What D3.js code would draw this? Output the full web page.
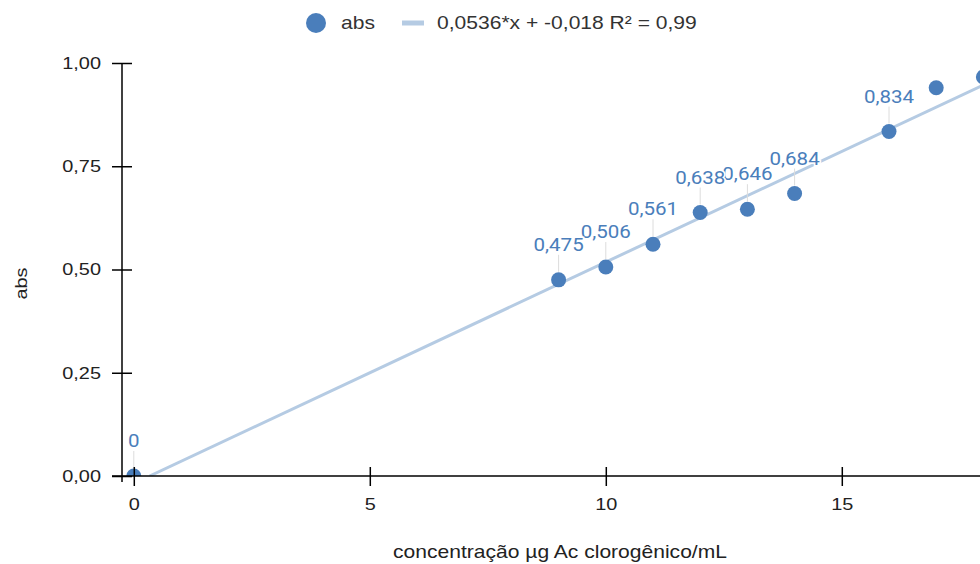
<!DOCTYPE html>
<html>
<head>
<meta charset="utf-8">
<script src="https://cdn.jsdelivr.net/npm/d3@7"></script>
<style>
  body { margin: 0; background: #fff; }
  svg { display: block; font-family: "Liberation Sans", Arial, sans-serif; }
</style>
</head>
<body>
<div id="chart"></div>
<script>
const concentracao = [0, 9, 10, 11, 12, 13, 14, 16, 17, 18];
const absorbancia = [0, 0.475, 0.506, 0.561, 0.638, 0.646, 0.684, 0.834, 0.94, 0.966];
const xTicks = [0, 5, 10, 15];
const yTicks = [0, 0.25, 0.5, 0.75, 1];
const slope = 0.0536;
const intercept = -0.018;

const width = 980, height = 564;
const margin = { top: 63, left: 122, bottom: 88 };
const sx = 1.17; // text in the original is drawn a bit wide
const fmt = d3.format(".2f");
const comma = s => s.replace(".", ",");

const svg = d3.select("#chart").append("svg")
  .attr("width", width).attr("height", height);

const x = d3.scaleLinear().domain([-0.25, 18.5]).range([margin.left, margin.left + 18.75 * 47.2]);
const y = d3.scaleLinear().domain([0, 1]).range([height - margin.bottom, margin.top]);

svg.append("clipPath").attr("id", "plot")
  .append("rect")
  .attr("x", x(-0.25)).attr("y", y(1) - 2)
  .attr("width", x(18.5) - x(-0.25)).attr("height", y(0) - y(1) + 2);

// trendline
const tx0 = -intercept / slope;
svg.append("line")
  .attr("clip-path", "url(#plot)")
  .attr("x1", x(tx0)).attr("y1", y(0))
  .attr("x2", x(18.5)).attr("y2", y(slope * 18.5 + intercept))
  .attr("stroke", "#b5cbe3").attr("stroke-width", 3);

const pts = concentracao.map((c, i) => ({ x: c, y: absorbancia[i] }));

// leader lines
const labelled = pts.filter(d => y(d.y) - 36 > margin.top);
svg.append("g").selectAll("line")
  .data(labelled)
  .join("line")
  .attr("x1", d => x(d.x)).attr("x2", d => x(d.x))
  .attr("y1", d => y(d.y) - 8).attr("y2", d => y(d.y) - 25)
  .attr("stroke", "#dcdcdc").attr("stroke-width", 1);

// points
svg.append("g").attr("clip-path", "url(#plot)")
  .selectAll("circle")
  .data(pts)
  .join("circle")
  .attr("cx", d => x(d.x)).attr("cy", d => y(d.y))
  .attr("r", 7.5)
  .attr("fill", "#4a7ebb");

// axes
const yAxis = d3.axisLeft(y).tickValues(yTicks).tickSizeOuter(0).tickSize(10)
  .tickFormat(d => comma(fmt(d)));
const gy = svg.append("g").attr("transform", `translate(${margin.left},0)`).call(yAxis);
gy.select(".domain").attr("d", `M0,${y(1)}V${y(0) + 6}`).attr("stroke", "#000").attr("stroke-width", 1.5);
gy.selectAll(".tick line").attr("x1", 10).attr("x2", -10).attr("stroke", "#000").attr("stroke-width", 1.5);
gy.selectAll(".tick text").attr("x", -21 / sx).attr("transform", `scale(${sx},1)`)
  .attr("font-size", 17).attr("fill", "#222")
  .attr("font-family", "Liberation Sans, Arial, sans-serif");

const xAxis = d3.axisBottom(x).tickValues(xTicks).tickSizeOuter(0).tickSize(10);
const gx = svg.append("g").attr("transform", `translate(0,${y(0)})`).call(xAxis);
gx.select(".domain").attr("d", `M${margin.left - 10},0H${width}`).attr("stroke", "#000").attr("stroke-width", 1.5);
gx.selectAll(".tick line").attr("y1", -9).attr("y2", 10).attr("stroke", "#000").attr("stroke-width", 1.5);
gx.selectAll(".tick text").attr("y", 22).attr("transform", `scale(${sx},1)`)
  .attr("font-size", 17).attr("fill", "#222")
  .attr("font-family", "Liberation Sans, Arial, sans-serif");

// point labels (reverse order so earlier labels sit on top)
svg.append("g").selectAll("text")
  .data(labelled.slice().reverse())
  .join("text")
  .attr("transform", d => `translate(${x(d.x)},${y(d.y) - 29}) scale(1.08,1)`)
  .attr("text-anchor", "middle")
  .attr("font-family", "Roboto, sans-serif")
  .attr("font-size", 19)
  .attr("fill", "#4a7ebb")
  .attr("stroke", "#fff").attr("stroke-width", 3).attr("paint-order", "stroke")
  .text(d => d.y === 0 ? "0" : comma(String(d.y)));

// axis titles
svg.append("text")
  .attr("transform", `translate(27,${(y(0) + y(1)) / 2 + 14}) rotate(-90) scale(${sx},1)`)
  .attr("text-anchor", "middle").attr("font-size", 17).attr("fill", "#222")
  .text("abs");
svg.append("text")
  .attr("transform", `translate(560,558) scale(${sx},1)`)
  .attr("text-anchor", "middle").attr("font-size", 18).attr("fill", "#222")
  .text("concentração µg Ac clorogênico/mL");

// legend
const lg = svg.append("g");
lg.append("circle").attr("cx", 316).attr("cy", 23).attr("r", 10).attr("fill", "#4a7ebb");
lg.append("text").attr("transform", `translate(341,29) scale(${sx},1)`)
  .attr("font-size", 18).attr("fill", "#333").text("abs");
lg.append("line").attr("x1", 402).attr("x2", 424).attr("y1", 23).attr("y2", 23)
  .attr("stroke", "#b5cbe3").attr("stroke-width", 5);
lg.append("text").attr("transform", `translate(437,29) scale(${sx},1)`)
  .attr("font-size", 18).attr("fill", "#333")
  .text("0,0536*x + -0,018 R² = 0,99");
</script>
</body>
</html>
